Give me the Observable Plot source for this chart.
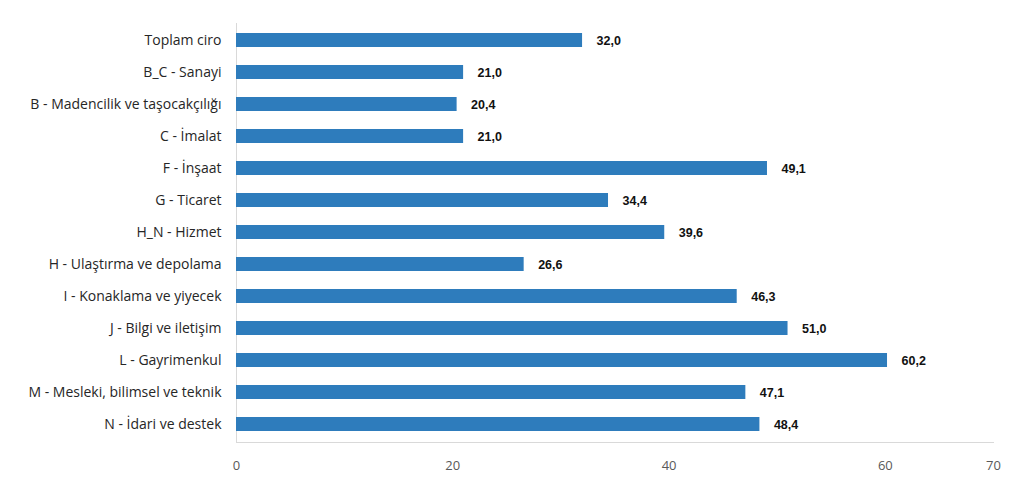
<!DOCTYPE html>
<html>
<head>
<meta charset="utf-8">
<script src="https://cdn.jsdelivr.net/npm/d3@7"></script>
<script src="https://cdn.jsdelivr.net/npm/@observablehq/plot@0.6"></script>
<style>
  html, body { margin: 0; padding: 0; background: #fff; }
</style>
</head>
<body>
<div id="chart"></div>
<script>
const categories = [
  "Toplam ciro",
  "B_C - Sanayi",
  "B - Madencilik ve taşocakçılığı",
  "C - İmalat",
  "F - İnşaat",
  "G - Ticaret",
  "H_N - Hizmet",
  "H - Ulaştırma ve depolama",
  "I - Konaklama ve yiyecek",
  "J - Bilgi ve iletişim",
  "L - Gayrimenkul",
  "M - Mesleki, bilimsel ve teknik",
  "N - İdari ve destek"
];
const values = [32.0, 21.0, 20.4, 21.0, 49.1, 34.4, 39.6, 26.6, 46.3, 51.0, 60.2, 47.1, 48.4];
const xTicks = [0, 20, 40, 60, 70];

const data = categories.map((c, i) => ({category: c, value: values[i]}));
const fmt = v => v.toFixed(1).replace(".", ",");

const chart = Plot.plot({
  width: 1024,
  height: 484,
  marginLeft: 236,
  marginRight: 31,
  marginTop: 23,
  marginBottom: 42,
  style: {fontFamily: "'Open Sans', sans-serif", fontSize: "14px", background: "#fff"},
  x: {domain: [0, 70], ticks: xTicks, label: null},
  y: {domain: categories, label: null, paddingInner: 0.56, paddingOuter: 0.28},
  marks: [
    Plot.frame({anchor: "bottom", stroke: "#d9d9d9"}),
    Plot.frame({anchor: "left", stroke: "#d9d9d9"}),
    Plot.barX(data, {x: "value", y: "category", fill: "#2e7cbc"}),
    Plot.text(data, {
      x: "value", y: "category", text: d => fmt(d.value),
      dx: 14, textAnchor: "start", fontWeight: "bold",
      fontFamily: "'Liberation Sans', Arial, sans-serif", fontSize: 12.5, fill: "#111"
    }),
    Plot.axisX({ticks: xTicks, tickSize: 0, tickPadding: 18, fontSize: 13, color: "#595959", tickFormat: d => String(d), label: null}),
    Plot.axisY({tickSize: 0, tickPadding: 15, fontSize: 14, color: "#262626", label: null})
  ]
});
document.getElementById("chart").appendChild(chart);
</script>
</body>
</html>
